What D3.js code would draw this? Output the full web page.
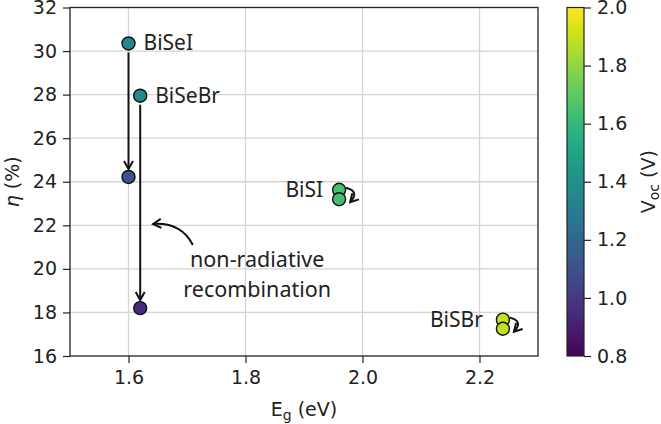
<!DOCTYPE html>
<html>
<head>
<meta charset="utf-8">
<script src="https://cdn.jsdelivr.net/npm/d3@7"></script>
<style>
  body { margin: 0; background: #fff; }
  svg { display: block; }
  .tick text { font-family: "DejaVu Sans", sans-serif; font-size: 19px; fill: #222; }
  .tick line { stroke: #222; stroke-width: 1.2; }
  .domain { stroke: #222; stroke-width: 1.3; }
</style>
</head>
<body>
<div id="chart"></div>
<script>
// materials and values
var materials = ['BiSeI', 'BiSeBr', 'BiSI', 'BiSBr'];
var bandGap = [1.60, 1.62, 1.96, 2.24];          // E_g (eV)
var etaRadiative = [30.35, 27.95, 23.63, 17.67];  // eta (%), radiative limit
var vocRadiative = [1.36, 1.37, 1.65, 1.90];      // V_oc (V)
var etaWithLoss = [24.22, 18.2, 23.2, 17.25];     // eta (%) with non-radiative recombination
var vocWithLoss = [1.10, 0.95, 1.64, 1.89];
var labelSide = ['right', 'right', 'left', 'left'];

var xTicks = [1.6, 1.8, 2.0, 2.2];
var yTicks = [16, 18, 20, 22, 24, 26, 28, 30, 32];
var cTicks = [0.8, 1.0, 1.2, 1.4, 1.6, 1.8, 2.0];

var svgWidth = 661, svgHeight = 424;
var margin = {top: 7.5, left: 70};
var plotW = 468, plotH = 348.5;

var svg = d3.select('#chart').append('svg')
    .attr('width', svgWidth).attr('height', svgHeight);

var defs = svg.append('defs');
defs.append('marker')
    .attr('id', 'head')
    .attr('viewBox', '-10 -6 12 12')
    .attr('refX', 0).attr('refY', 0)
    .attr('markerWidth', 12).attr('markerHeight', 12)
    .attr('markerUnits', 'userSpaceOnUse')
    .attr('orient', 'auto')
    .append('path')
    .attr('d', 'M-8,-4.5 L0,0 L-8,4.5')
    .attr('fill', 'none').attr('stroke', '#111').attr('stroke-width', 2);

var g = svg.append('g')
    .attr('transform', 'translate(' + margin.left + ' ' + margin.top + ')');

var x = d3.scaleLinear().domain([1.5, 2.3]).range([0, plotW]);
var y = d3.scaleLinear().domain([16, 32]).range([plotH, 0]);
var color = d3.scaleSequential(d3.interpolateViridis).domain([0.8, 2.0]);

// grid
g.append('g').selectAll('line').data(xTicks).join('line')
    .attr('x1', d => x(d)).attr('x2', d => x(d))
    .attr('y1', 0).attr('y2', plotH)
    .attr('stroke', '#d4d4d4').attr('stroke-width', 1.3);
g.append('g').selectAll('line').data(yTicks.slice(1, -1)).join('line')
    .attr('y1', d => y(d)).attr('y2', d => y(d))
    .attr('x1', 0).attr('x2', plotW)
    .attr('stroke', '#d4d4d4').attr('stroke-width', 1.3);

// frame
g.append('rect').attr('width', plotW).attr('height', plotH)
    .attr('fill', 'none').attr('stroke', '#222').attr('stroke-width', 1.3);

// axes
var xAxis = g.append('g')
    .attr('transform', 'translate(0 ' + plotH + ')')
    .call(d3.axisBottom(x).tickValues(xTicks).tickFormat(d3.format('.1f')).tickSize(7).tickPadding(8));
var yAxis = g.append('g')
    .call(d3.axisLeft(y).tickValues(yTicks).tickFormat(d3.format('d')).tickSize(7).tickPadding(6));
xAxis.select('.domain').remove();
yAxis.select('.domain').remove();

// axis labels
svg.append('text')
    .attr('x', margin.left + plotW / 2).attr('y', 416)
    .attr('text-anchor', 'middle')
    .style('font-family', 'DejaVu Sans').style('font-size', '19px').attr('fill', '#222')
    .html('E<tspan baseline-shift="-25%" font-size="14px">g</tspan> (eV)');
svg.append('text')
    .attr('transform', 'translate(19 ' + (margin.top + plotH / 2) + ') rotate(-90)')
    .attr('text-anchor', 'middle')
    .style('font-family', 'DejaVu Sans').style('font-size', '19px').attr('fill', '#222')
    .html('<tspan font-style="italic">η</tspan> (%)');

// vertical arrows (radiative -> non-radiative) for first two materials
var bigArrows = [0, 1];
g.selectAll('.drop').data(bigArrows).join('line')
    .attr('class', 'drop')
    .attr('x1', i => x(bandGap[i])).attr('x2', i => x(bandGap[i]))
    .attr('y1', i => y(etaRadiative[i]) + 9).attr('y2', i => y(etaWithLoss[i]) - 8)
    .attr('stroke', '#111').attr('stroke-width', 2)
    .attr('marker-end', 'url(#head)');

// small curved arrows for BiSI, BiSBr
var smallArrows = [2, 3];
g.selectAll('.curl').data(smallArrows).join('path')
    .attr('class', 'curl')
    .attr('d', function(i) {
        var px = x(bandGap[i]), y0 = y(etaRadiative[i]), y1 = y(etaWithLoss[i]);
        return 'M' + (px + 7) + ',' + (y0 - 2) + ' Q' + (px + 21) + ',' + ((y0 + y1) / 2 - 3) +
            ' ' + (px + 11) + ',' + (y1 + 3);
    })
    .attr('fill', 'none').attr('stroke', '#111').attr('stroke-width', 2)
    .attr('marker-end', 'url(#head)');

// annotation text and its curved arrow
var noteX = 1.82, noteY = 20.09;
var noteArrowFrom = [1.71, 21.1], noteArrowTo = [1.642, 22.06];
var ax0 = x(noteArrowFrom[0]), ay0 = y(noteArrowFrom[1]);
var ax1 = x(noteArrowTo[0]), ay1 = y(noteArrowTo[1]);
g.append('path')
    .attr('d', 'M' + ax0 + ',' + ay0 + ' Q' + (ax0 - 12) + ',' + (ay1 - 2) + ' ' + ax1 + ',' + ay1)
    .attr('fill', 'none').attr('stroke', '#111').attr('stroke-width', 2)
    .attr('marker-end', 'url(#head)');
var note = g.append('text')
    .attr('x', x(noteX)).attr('y', y(noteY))
    .attr('text-anchor', 'middle')
    .style('font-family', 'Noto Sans').style('font-size', '21.5px').attr('fill', '#222');
note.append('tspan').attr('x', x(noteX)).attr('dy', 0).text('non-radiative');
note.append('tspan').attr('x', x(noteX)).attr('dy', 30).text('recombination');

// points
var idx = d3.range(materials.length);
g.selectAll('.rad').data(idx).join('circle')
    .attr('class', 'rad')
    .attr('cx', i => x(bandGap[i])).attr('cy', i => y(etaRadiative[i]))
    .attr('r', 6.5)
    .attr('fill', i => color(vocRadiative[i]))
    .attr('stroke', '#111').attr('stroke-width', 1.4);
g.selectAll('.loss').data(idx).join('circle')
    .attr('class', 'loss')
    .attr('cx', i => x(bandGap[i])).attr('cy', i => y(etaWithLoss[i]))
    .attr('r', 6.5)
    .attr('fill', i => color(vocWithLoss[i]))
    .attr('stroke', '#111').attr('stroke-width', 1.4);

// material labels
g.selectAll('.lab').data(idx).join('text')
    .attr('class', 'lab')
    .attr('x', i => x(bandGap[i]) + (labelSide[i] === 'right' ? 15 : (i === 3 ? -20 : -16)))
    .attr('y', i => y(etaRadiative[i]) + 7)
    .attr('text-anchor', i => labelSide[i] === 'right' ? 'start' : 'end')
    .style('font-family', 'Noto Sans').style('font-size', '21px').attr('fill', '#222')
    .text(i => materials[i]);

// colorbar
var cbX = 567, cbW = 17;
var cb = svg.append('g').attr('transform', 'translate(' + cbX + ' ' + margin.top + ')');
var grad = defs.append('linearGradient').attr('id', 'viridis')
    .attr('x1', 0).attr('x2', 0).attr('y1', 1).attr('y2', 0);
d3.range(0, 1.0001, 0.05).forEach(function(t) {
    grad.append('stop').attr('offset', t).attr('stop-color', d3.interpolateViridis(t));
});
var cy = d3.scaleLinear().domain([0.8, 2.0]).range([plotH, 0]);
cb.append('rect').attr('width', cbW).attr('height', plotH)
    .attr('fill', 'url(#viridis)').attr('stroke', '#222').attr('stroke-width', 1.2);
var cAxis = cb.append('g').attr('transform', 'translate(' + cbW + ' 0)')
    .call(d3.axisRight(cy).tickValues(cTicks).tickFormat(d3.format('.1f')).tickSize(7).tickPadding(6));
cAxis.select('.domain').remove();
svg.append('text')
    .attr('transform', 'translate(655 ' + (margin.top + plotH / 2) + ') rotate(-90)')
    .attr('text-anchor', 'middle')
    .style('font-family', 'DejaVu Sans').style('font-size', '19px').attr('fill', '#222')
    .html('V<tspan baseline-shift="-25%" font-size="14px">oc</tspan> (V)');
</script>
</body>
</html>
